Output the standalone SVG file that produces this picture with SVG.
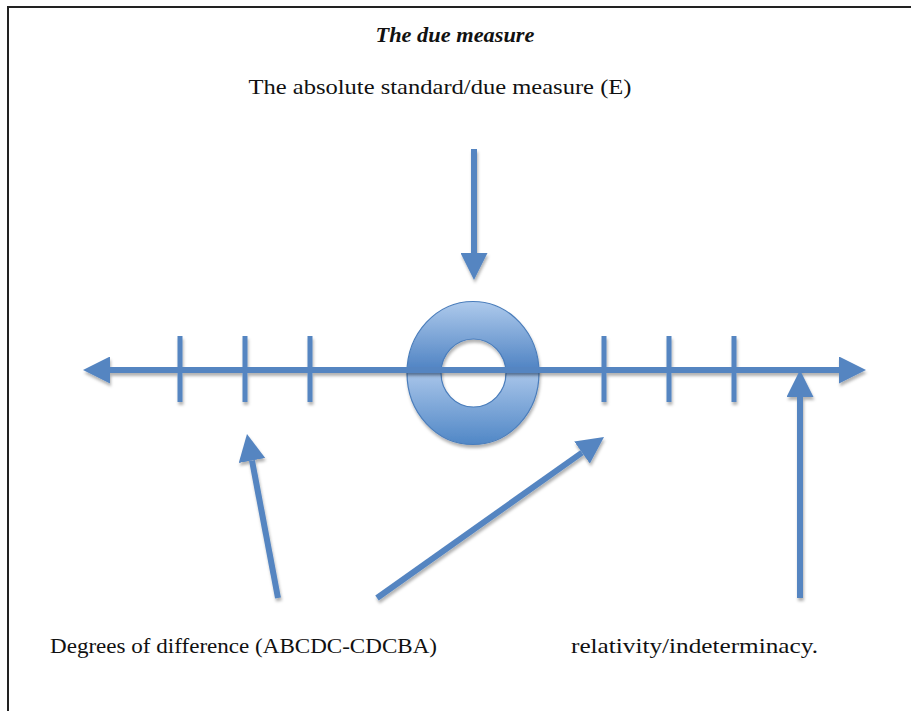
<svg xmlns="http://www.w3.org/2000/svg" width="911" height="711" viewBox="0 0 911 711">
<style>
.lbl{font-family:"Liberation Serif","DejaVu Serif",serif;font-size:21px;fill:#111}
.ttl{font-family:"Liberation Serif","DejaVu Serif",serif;font-size:21px;font-weight:bold;font-style:italic;fill:#111}
.ln{stroke:#5585c1;stroke-width:6;fill:none}
.tk{stroke:#5585c1;stroke-width:5;fill:none}
</style>
<defs>
<filter id="sh" x="-20%" y="-20%" width="140%" height="140%">
<feDropShadow dx="1" dy="3" stdDeviation="1.6" flood-color="#000" flood-opacity="0.3"/>
</filter>
<marker id="ah" markerUnits="userSpaceOnUse" markerWidth="27" markerHeight="27" refX="0" refY="13.5" orient="auto-start-reverse" viewBox="0 0 27 27">
<path d="M0,0 L27,13.5 L0,27 z" fill="#5585c1"/>
</marker>
<linearGradient id="rg" x1="0" y1="0" x2="0" y2="1">
<stop offset="0" stop-color="#aecaec"/>
<stop offset="0.48" stop-color="#4f83c3"/>
<stop offset="0.52" stop-color="#a4c2e8"/>
<stop offset="1" stop-color="#5087c6"/>
</linearGradient>
</defs>
<rect width="911" height="711" fill="#fff"/>
<path d="M8,711 V7 H911" fill="none" stroke="#222" stroke-width="2"/>
<g id="title"><text class="ttl" x="455" y="42" text-anchor="middle" textLength="159" lengthAdjust="spacingAndGlyphs">The due measure</text></g>
<g id="label-standard"><text class="lbl" x="440" y="94" text-anchor="middle" textLength="383" lengthAdjust="spacingAndGlyphs">The absolute standard/due measure (E)</text></g>
<g id="due-measure-ring" filter="url(#sh)">
<path d="M407,373 a66,71.5 0 1,0 132,0 a66,71.5 0 1,0 -132,0 z M441,373 a32.5,34 0 1,1 65,0 a32.5,34 0 1,1 -65,0 z" fill="url(#rg)" fill-rule="evenodd" stroke="#4a7dbb" stroke-width="1.2"/>
</g>
<g id="number-line" filter="url(#sh)">
<line class="tk" x1="180" y1="336" x2="180" y2="402"/>
<line class="tk" x1="245" y1="336" x2="245" y2="402"/>
<line class="tk" x1="310" y1="336" x2="310" y2="402"/>
<line class="tk" x1="604" y1="336" x2="604" y2="402"/>
<line class="tk" x1="669" y1="336" x2="669" y2="402"/>
<line class="tk" x1="734" y1="336" x2="734" y2="402"/>
<line class="ln" x1="110" y1="370" x2="839" y2="370" marker-start="url(#ah)" marker-end="url(#ah)"/>
</g>
<g id="connectors" filter="url(#sh)">
<line class="ln" x1="474" y1="149" x2="474" y2="253" marker-end="url(#ah)"/>
<line class="ln" x1="278" y1="598" x2="252" y2="460.5" marker-end="url(#ah)"/>
<line class="ln" x1="377" y1="598" x2="582" y2="452.6" marker-end="url(#ah)"/>
<line class="ln" x1="800" y1="598" x2="800" y2="397" marker-end="url(#ah)"/>
</g>
<g id="label-degrees"><text class="lbl" x="50" y="653" textLength="387" lengthAdjust="spacingAndGlyphs">Degrees of difference (ABCDC-CDCBA)</text></g>
<g id="label-relativity"><text class="lbl" x="571" y="653" textLength="247" lengthAdjust="spacingAndGlyphs">relativity/indeterminacy.</text></g>
</svg>
